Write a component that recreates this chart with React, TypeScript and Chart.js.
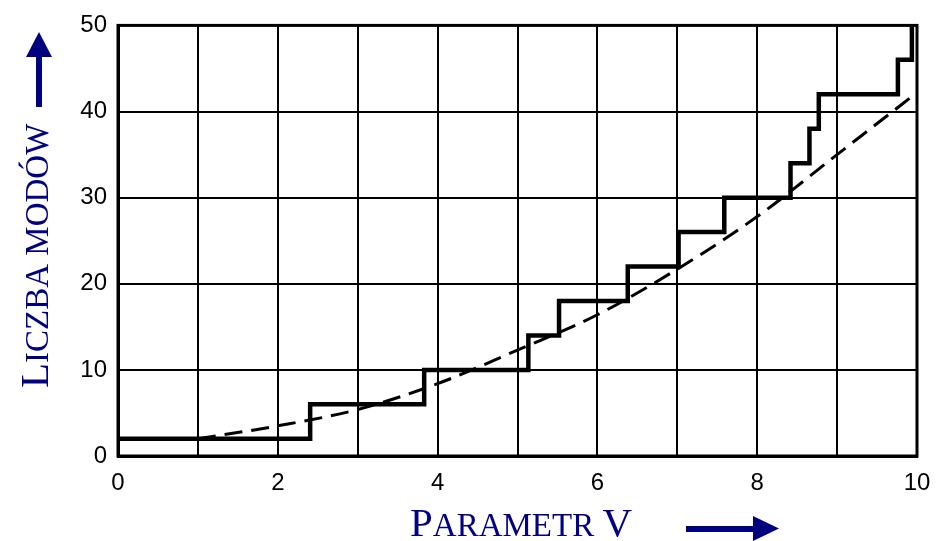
import React, { useEffect, useRef } from "react";
import { Chart, registerables } from "chart.js";

Chart.register(...registerables);

// Mode-count staircase: cutoff values of V and the number of modes above each cutoff
const stepV = [0, 2.405, 3.832, 5.136, 5.52, 6.38, 7.016, 7.588, 8.417, 8.654, 8.771, 9.761, 9.936];
const stepModes = [2, 6, 10, 14, 18, 22, 26, 30, 34, 38, 42, 46, 50];

// Smooth approximation (dashed curve)
const approxV = [1, 2, 3, 4, 5, 6, 7, 8, 9, 10];
const approxModes = [2.0, 3.5, 5.4, 8.4, 12.3, 16.4, 21.7, 27.8, 35.0, 42.2];

// Axis ticks
const xLabelledTicks = [0, 2, 4, 6, 8, 10];
const yTicks = [0, 10, 20, 30, 40, 50];

const xTitle = "Parametr V";
const yTitle = "Liczba modów";

const NAVY = "#000080";
const TICK_FONT = "Liberation Sans";
const TITLE_FONT = "Liberation Serif";

// Draws text in small caps: capitals at the big size, lower-case letters as capitals at the small size.
function drawSmallCaps(
  ctx: CanvasRenderingContext2D,
  text: string,
  big: number,
  small: number
) {
  let x = 0;
  for (const ch of text) {
    const isUpper = ch !== ch.toLowerCase();
    const size = isUpper ? big : small;
    const glyph = isUpper ? ch : ch.toUpperCase();
    ctx.font = `${size}px "${TITLE_FONT}"`;
    ctx.fillText(glyph, x, 0);
    x += ctx.measureText(glyph).width;
  }
}

const framePlugin = {
  id: "frame",
  beforeDatasetsDraw(chart: any) {
    const { ctx, chartArea } = chart;
    ctx.save();
    ctx.strokeStyle = "#000";
    ctx.lineWidth = 3;
    ctx.strokeRect(
      chartArea.left,
      chartArea.top,
      chartArea.right - chartArea.left,
      chartArea.bottom - chartArea.top
    );
    ctx.restore();
  },
};

const titlesPlugin = {
  id: "smallCapsTitles",
  afterDraw(chart: any) {
    const { ctx } = chart;
    ctx.save();
    ctx.fillStyle = NAVY;
    ctx.textBaseline = "alphabetic";
    ctx.textAlign = "left";

    // x-axis title
    ctx.save();
    ctx.translate(410, 536);
    drawSmallCaps(ctx, xTitle, 41, 33);
    ctx.restore();

    // y-axis title, rotated
    ctx.save();
    ctx.translate(48, 388);
    ctx.rotate(-Math.PI / 2);
    drawSmallCaps(ctx, yTitle, 41, 33);
    ctx.restore();

    // upward arrow above the y title
    ctx.beginPath();
    ctx.rect(36, 57, 6, 50);
    ctx.fill();
    ctx.beginPath();
    ctx.moveTo(26, 57);
    ctx.lineTo(52, 57);
    ctx.lineTo(39, 32);
    ctx.closePath();
    ctx.fill();

    // rightward arrow after the x title
    ctx.beginPath();
    ctx.rect(686, 526, 68, 6);
    ctx.fill();
    ctx.beginPath();
    ctx.moveTo(753, 516);
    ctx.lineTo(753, 541);
    ctx.lineTo(779, 528.5);
    ctx.closePath();
    ctx.fill();

    ctx.restore();
  },
};

export default function App() {
  const canvasRef = useRef<HTMLCanvasElement | null>(null);

  useEffect(() => {
    const canvas = canvasRef.current;
    if (!canvas) return;

    const chart = new Chart(canvas, {
      type: "line",
      data: {
        datasets: [
          {
            label: "Liczba modów",
            data: stepV.map((v, i) => ({ x: v, y: stepModes[i] })),
            stepped: "before",
            borderColor: "#000",
            borderWidth: 4.5,
            borderJoinStyle: "miter",
            borderCapStyle: "butt",
            pointRadius: 0,
            fill: false,
            clip: 6,
          },
          {
            label: "Przybliżenie",
            data: approxV.map((v, i) => ({ x: v, y: approxModes[i] })),
            borderColor: "#000",
            borderWidth: 3,
            borderDash: [18, 9],
            cubicInterpolationMode: "monotone",
            pointRadius: 0,
            fill: false,
            clip: 6,
          },
        ],
      },
      options: {
        responsive: false,
        animation: false,
        events: [],
        layout: { padding: { top: 19, right: 27, left: 0, bottom: 0 } },
        plugins: {
          legend: { display: false },
          tooltip: { enabled: false },
          title: { display: false },
        },
        scales: {
          x: {
            type: "linear",
            min: 0,
            max: 10,
            afterFit(scale: any) {
              scale.height = 85;
            },
            ticks: {
              stepSize: 1,
              autoSkip: false,
              maxRotation: 0,
              padding: 13,
              color: "#000",
              font: { family: TICK_FONT, size: 24 },
              callback: (value: any) =>
                xLabelledTicks.includes(Number(value)) ? String(value) : "",
            },
            grid: { color: "#000", lineWidth: 2, drawTicks: false },
            border: { color: "#000", width: 3 },
          },
          y: {
            type: "linear",
            min: 0,
            max: 50,
            afterFit(scale: any) {
              scale.width = 118;
            },
            afterBuildTicks(scale: any) {
              scale.ticks = yTicks.map((v) => ({ value: v }));
            },
            ticks: {
              padding: 11,
              color: "#000",
              font: { family: TICK_FONT, size: 24 },
            },
            grid: { color: "#000", lineWidth: 2, drawTicks: false },
            border: { color: "#000", width: 3 },
          },
        },
      },
      plugins: [framePlugin, titlesPlugin],
    });

    return () => chart.destroy();
  }, []);

  return (
    <div style={{ position: "fixed", left: 0, top: 0, width: 944, height: 541, background: "#fff" }}>
      <canvas ref={canvasRef} width={944} height={541} style={{ display: "block" }} />
    </div>
  );
}
